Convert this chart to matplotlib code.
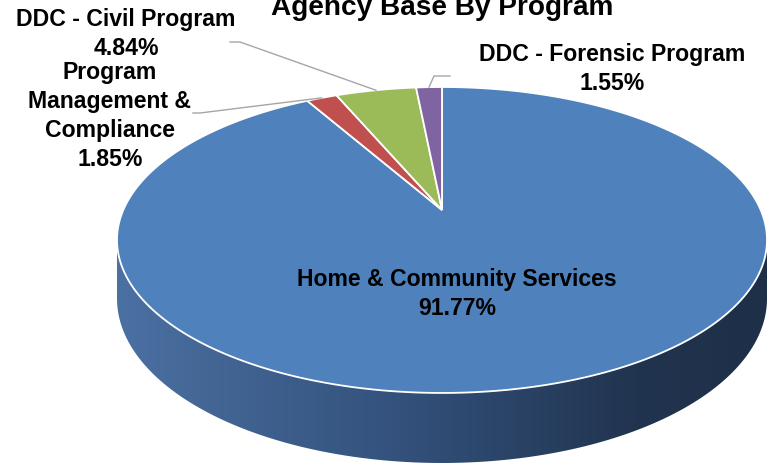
import numpy as np
import matplotlib.pyplot as plt
from matplotlib.patches import Polygon
from matplotlib.colors import LinearSegmentedColormap

# Agency base split by program (percent of total)
programs = ['Home & Community Services', 'Program\nManagement &\nCompliance',
            'DDC - Civil Program', 'DDC - Forensic Program']
shares = [91.77, 1.85, 4.84, 1.55]
slice_colors = ['#4F81BD', '#C0504D', '#9BBB59', '#8064A2']

# label placement: (x, last-line baseline) in pixels, plus leader elbow/end points
label_pos = [(457, 315), (110, 166), (126, 55), (612, 90)]
leaders = [None, [(200, 113), (193, 113)], [(240, 42), (230, 42)], [(434, 76), (450, 76)]]

# perspective disc: centre, horizontal scale, depth scale, perspective factor, side height
CX, CY = 442, 210
SX, SZ, K = 318.7, 147.1, 0.196
DROP = 56.3


def project(theta, drop=0.0):
    # theta measured clockwise from 12 o'clock on the flat disc
    x, z = np.sin(theta), np.cos(theta)
    w = 1 + K * z
    return CX + SX * x / w, CY - SZ * z / w + drop / w


fig = plt.figure(figsize=(7.69, 4.66), dpi=100)
ax = fig.add_axes([0, 0, 1, 1])
ax.set_xlim(0, 769)
ax.set_ylim(466, 0)
ax.axis('off')

# side wall (front half only), shaded left to right
t_right = np.arccos(-K)
t_side = np.linspace(t_right, 2 * np.pi - t_right, 300)
xt, yt = project(t_side)
xb, yb = project(t_side[::-1], DROP)
side = Polygon(np.column_stack([np.r_[xt, xb], np.r_[yt, yb]]), closed=True,
               facecolor='none', edgecolor='none')
ax.add_patch(side)
side_cmap = LinearSegmentedColormap.from_list(
    'side', [(0, '#4b70a2'), (0.45, '#32507a'), (0.8, '#21344f'), (1, '#1e2f48')])
grad = np.tile(np.linspace(0, 1, 400), (10, 1))
img = ax.imshow(grad, cmap=side_cmap, extent=(xt.min(), xt.max(), yb.max(), yt.min()),
                aspect='auto', zorder=1)
img.set_clip_path(side)

# top face wedges
bounds = np.r_[0, np.cumsum(shares)] / np.sum(shares) * 2 * np.pi
for i, (a0, a1) in enumerate(zip(bounds[:-1], bounds[1:])):
    t = np.linspace(a0, a1, max(int((a1 - a0) * 120), 4))
    px, py = project(t)
    pts = np.column_stack([np.r_[CX, px], np.r_[CY, py]])
    ax.add_patch(Polygon(pts, closed=True, facecolor=slice_colors[i],
                         edgecolor='white', linewidth=1.3, zorder=2))

# labels and leader lines
for i, name in enumerate(programs):
    lx, ly = label_pos[i]
    ax.text(lx, ly, f'{name}\n{shares[i]:.2f}%', ha='center', va='baseline',
            fontsize=16.6, fontweight='bold', family='Liberation Sans',
            linespacing=1.33, color='black', zorder=4)
    if leaders[i] is not None:
        mid = (bounds[i] + bounds[i + 1]) / 2
        rx, ry = project(mid)
        path = [(rx, ry)] + leaders[i]
        ax.plot([p[0] for p in path], [p[1] for p in path], color='#a6a6a6',
                linewidth=1.0, zorder=3)

ax.text(442, 15, 'Agency Base By Program', ha='center', va='baseline',
        fontsize=20.2, fontweight='bold', family='Liberation Sans', zorder=4)

fig.savefig('out.png', dpi=100)
